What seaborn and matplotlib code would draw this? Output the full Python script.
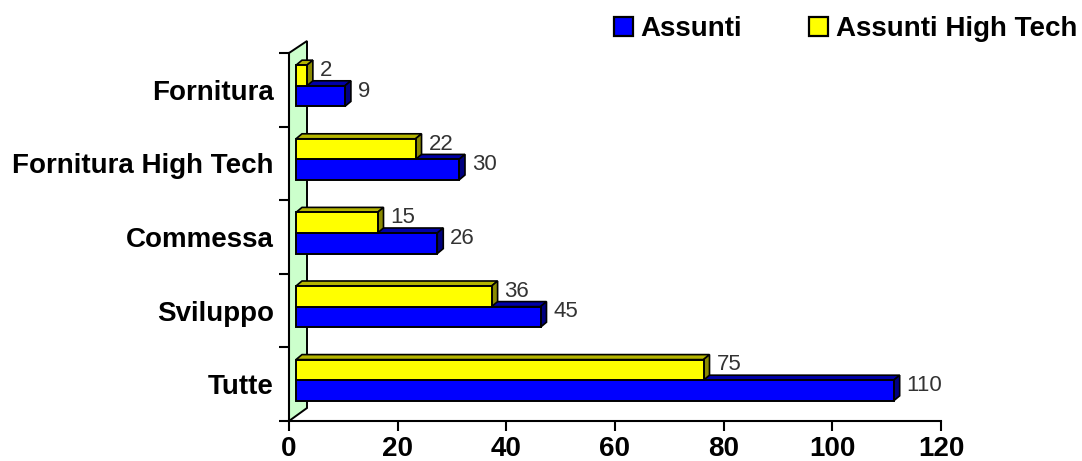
import numpy as np
import pandas as pd
import matplotlib
matplotlib.use("Agg")
import matplotlib.pyplot as plt
from matplotlib.patches import Polygon, Patch
from matplotlib.transforms import ScaledTranslation
import seaborn as sns

# Data
categories = ["Fornitura", "Fornitura High Tech", "Commessa", "Sviluppo", "Tutte"]
assunti = [9, 30, 26, 45, 110]
assunti_high_tech = [2, 22, 15, 36, 75]
series_names = ["Assunti", "Assunti High Tech"]
x_ticks = [0, 20, 40, 60, 80, 100, 120]

df = pd.DataFrame({
    "categoria": categories * 2,
    "valore": assunti_high_tech + assunti,
    "serie": [series_names[1]] * len(categories) + [series_names[0]] * len(categories),
})

sns.set_theme(style="white")
plt.rcParams["font.family"] = ["Liberation Sans", "DejaVu Sans"]
plt.rcParams["text.color"] = "black"
plt.rcParams["xtick.color"] = "black"
plt.rcParams["ytick.color"] = "black"

W, H = 1082, 461
fig = plt.figure(figsize=(W / 100, H / 100), dpi=100)
ax = fig.add_axes([289 / W, 40 / H, 652 / W, 368 / H])

face = {series_names[0]: "#0000ff", series_names[1]: "#ffff00"}
top_face = {"#0000ff": "#0000a8", "#ffff00": "#b4b400"}
side_face = {"#0000ff": "#000080", "#ffff00": "#8a8a00"}

sns.barplot(data=df, y="categoria", x="valore", hue="serie", order=categories,
            hue_order=[series_names[1], series_names[0]], palette=face,
            orient="h", width=0.56, edgecolor="black", linewidth=1.4,
            saturation=1, legend=False, ax=ax)

ax.set_xlim(0, 120)
ax.set_ylim(len(categories) - 0.5, -0.5)

# Pseudo-3D geometry (pixels)
front_dx, front_dy = 7, 4      # bars sit a little behind the axis plane
depth_dx, depth_dy = 6, 5      # bar depth
wall_dx, wall_dy = 18, 12      # back wall depth

to_disp = ax.transData.transform
to_data = ax.transData.inverted().transform

# Back wall
a0 = ax.transAxes.transform((0, 0))
a1 = ax.transAxes.transform((0, 1))
wall_pts = np.array([a0, a0 + [wall_dx, wall_dy + 1], a1 + [wall_dx, wall_dy], a1])
wall = Polygon(to_data(wall_pts), closed=True, facecolor="#ccffcc",
               edgecolor="black", linewidth=1.4, zorder=0.5, clip_on=False)
ax.add_patch(wall)

shift = ScaledTranslation(front_dx / 100, front_dy / 100, fig.dpi_scale_trans)
for p in list(ax.patches):
    if p is wall:
        continue
    fc = matplotlib.colors.to_hex(p.get_facecolor())
    z = 3 if fc == "#ffff00" else 2
    x0, y0, w, h = p.get_x(), p.get_y(), p.get_width(), p.get_height()
    # corners in display space, moved into the bar plane
    tl = to_disp((x0, y0)) + [front_dx, front_dy]
    tr = to_disp((x0 + w, y0)) + [front_dx, front_dy]
    br = to_disp((x0 + w, y0 + h)) + [front_dx, front_dy]
    d = np.array([depth_dx, depth_dy])
    top = np.array([tl, tr, tr + d, tl + d])
    side = np.array([tr, br, br + d, tr + d])
    ax.add_patch(Polygon(to_data(top), closed=True, facecolor=top_face[fc],
                         edgecolor="black", linewidth=1.2, zorder=z, clip_on=False))
    ax.add_patch(Polygon(to_data(side), closed=True, facecolor=side_face[fc],
                         edgecolor="black", linewidth=1.2, zorder=z, clip_on=False))
    p.set_transform(ax.transData + shift)
    p.set_zorder(z + 0.1)
    p.set_clip_on(False)
    # value label
    ax.annotate(f"{w:g}", xy=(x0 + w, y0 + h / 2), xytext=(front_dx + 13, front_dy + 5),
                textcoords="offset pixels", ha="left", va="center",
                fontsize=16, color="#333333", zorder=5, annotation_clip=False)

# Axes styling
for s in ["top", "right"]:
    ax.spines[s].set_visible(False)
for s in ["left", "bottom"]:
    ax.spines[s].set_color("black")
    ax.spines[s].set_linewidth(1.5)
    ax.spines[s].set_zorder(4)

ax.set_xticks(x_ticks)
ax.set_xticklabels([str(t) for t in x_ticks], fontsize=20, fontweight="bold", color="black")
ax.tick_params(axis="x", direction="out", length=7, width=1.5, color="black", pad=3.5,
               bottom=True)

ax.set_yticks(np.arange(len(categories) + 1) - 0.5)
ax.set_yticklabels([])
ax.set_yticks(np.arange(len(categories)), minor=True)
ax.set_yticklabels(categories, minor=True, fontsize=20, fontweight="bold", color="black")
ax.tick_params(axis="y", which="major", direction="out", length=7, width=1.5,
               color="black", left=True)
ax.tick_params(axis="y", which="minor", length=0, pad=11)
ax.set_xlabel("")
ax.set_ylabel("")
ax.grid(False)

# Legend
handles = [Patch(facecolor=face[n], edgecolor="black", linewidth=1.6) for n in series_names]
leg = fig.legend(handles, series_names, ncol=2, loc="center right",
                 bbox_to_anchor=(1077 / W, 1 - 29 / H), frameon=False,
                 prop={"size": 20, "weight": "bold"}, handlelength=0.68, handleheight=0.68,
                 handletextpad=0.28, columnspacing=2.4, borderpad=0, borderaxespad=0)
for t in leg.get_texts():
    t.set_color("black")

fig.savefig("out.png", dpi=100)
